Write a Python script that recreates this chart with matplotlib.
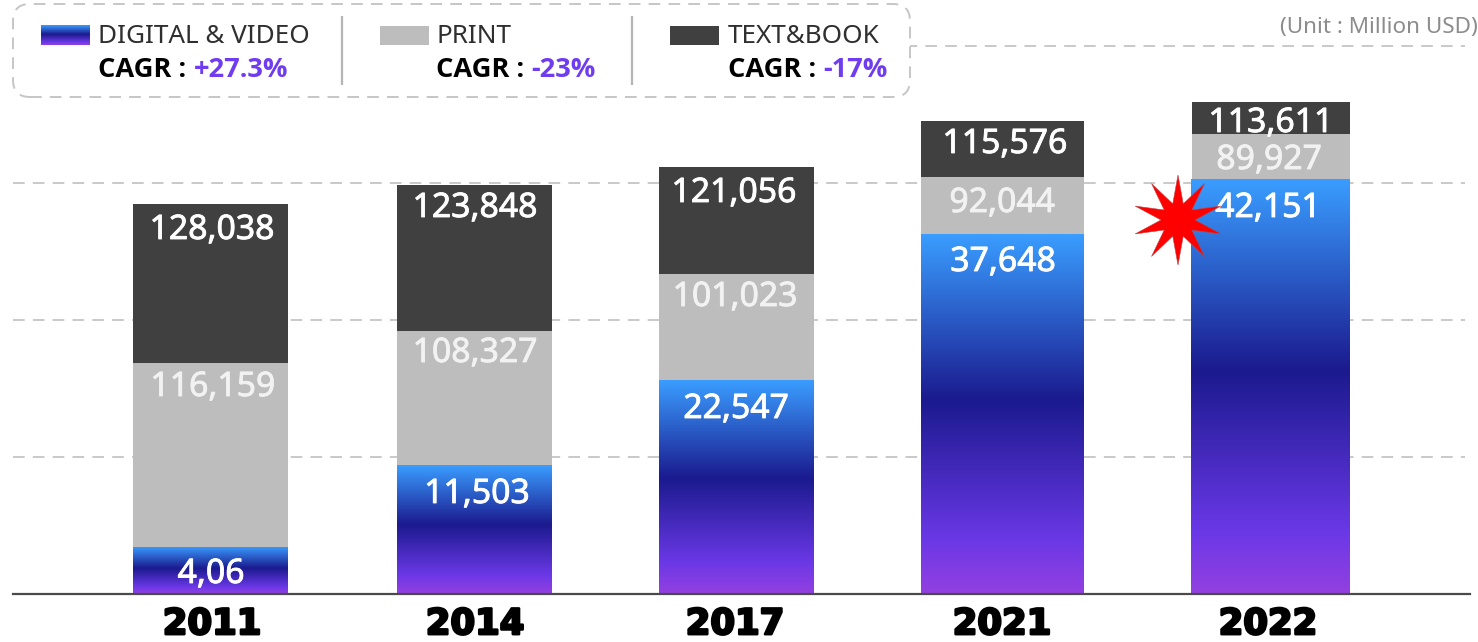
import numpy as np
import matplotlib
matplotlib.use("Agg")
import matplotlib.pyplot as plt
import matplotlib.patheffects as pe
from matplotlib.colors import LinearSegmentedColormap
from matplotlib.patches import FancyBboxPatch, Polygon, Rectangle

# ---- data -------------------------------------------------------------
years = ["2011", "2014", "2017", "2021", "2022"]
# drawn segment heights (the source bars are not to scale)
digital_heights = [47, 129, 214, 360, 415]
print_heights = [184, 134, 106, 57, 45]
text_heights = [159, 146, 107, 56, 32]
# printed labels
digital_labels = ["4,06", "11,503", "22,547", "37,648", "42,151"]
print_labels = ["116,159", "108,327", "101,023", "92,044", "89,927"]
text_labels = ["128,038", "123,848", "121,056", "115,576", "113,611"]
grid_levels = [137, 274, 411, 548]

# ---- layout (pixel based) ---------------------------------------------
W, H = 1478, 642
BASE = 594
centers = [210.5, 474.5, 736.5, 1002.5, 1270.5]
widths = [155, 155, 155, 163, 158]
blue_widths = [155, 155, 155, 163, 159]
tick_x = [212, 475, 735, 1002, 1268]
digital_lx = [211, 477, 736, 1003, 1268]
print_lx = [213, 475, 735, 1002, 1269]
text_lx = [212, 475, 734, 1005, 1271]
digital_ly = [570, 490, 405, 258, 204]
print_ly = [383, 349, 293, 199, 156]
text_ly = [226, 204, 189, 140, 119]

plt.rcParams["font.family"] = ["Noto Sans", "DejaVu Sans"]
DARK, GREY, PURPLE = "#404040", "#bdbdbd", "#6f3cf0"

cmap = LinearSegmentedColormap.from_list(
    "dv", [(0, "#3a9dff"), (0.46, "#1b1a8e"), (0.85, "#6a38e6"), (1, "#9340e0")])
grad = np.linspace(0, 1, 256).reshape(-1, 1)

fig = plt.figure(figsize=(W / 100, H / 100), dpi=100, facecolor="white")
ax = fig.add_axes([0, (H - BASE) / H, 1, BASE / H])
ax.patch.set_alpha(0)
for s in ["top", "left", "right"]:
    ax.spines[s].set_visible(False)
ax.spines["bottom"].set_bounds(13, 1470)
ax.spines["bottom"].set_color("#4a4a4a")
ax.spines["bottom"].set_linewidth(1.6)
ax.set_yticks([])
ax.set_xticks(tick_x)
ax.set_xticklabels(years, fontsize=25.5, fontweight="bold", color="black",
                   family=["DejaVu Sans"],
                   path_effects=[pe.withStroke(linewidth=1.8, foreground="black")])
ax.tick_params(axis="x", length=0, pad=9.5)

ax.hlines(grid_levels, 13, 1465, colors="#c9c9c9", linewidth=1.4,
          linestyles=(0, (6, 4.2)), zorder=1)

for i in range(len(years)):
    c, w = centers[i], widths[i]
    bw, d, p, t = blue_widths[i], digital_heights[i], print_heights[i], text_heights[i]
    ax.imshow(grad, cmap=cmap, aspect="auto", zorder=2, interpolation="bilinear",
              extent=(c - bw / 2, c + bw / 2, 0, d))
    ax.bar(c, p, w, bottom=d, color=GREY, zorder=2)
    ax.bar(c, t, w, bottom=d + p, color=DARK, zorder=2)

LABEL = dict(fontsize=24.3, ha="center", va="center_baseline", zorder=4)
def halo(col):
    return [pe.withStroke(linewidth=0.6, foreground=col)]
for i in range(len(years)):
    ax.text(digital_lx[i], BASE - digital_ly[i], digital_labels[i], color="white",
            path_effects=halo("white"), **LABEL)
    ax.text(print_lx[i], BASE - print_ly[i], print_labels[i], color="#f2f2f2",
            path_effects=halo("#f2f2f2"), **LABEL)
    ax.text(text_lx[i], BASE - text_ly[i], text_labels[i], color="white",
            path_effects=halo("white"), **LABEL)

# burst
cx, cy, ro, ri = 1178, BASE - 220, 45, 17
ang = np.deg2rad(90 - np.arange(20) * 18)
rad = np.where(np.arange(20) % 2 == 0, ro, ri)
ax.add_patch(Polygon(np.c_[cx + rad * np.cos(ang), cy + rad * np.sin(ang)],
                     closed=True, fc="#ff0000", ec="#c04040", lw=0.4, zorder=5))

# legend box
ax.add_patch(FancyBboxPatch((13 + 17, BASE - 97 + 17), 897 - 34, 93 - 34,
                            boxstyle="round,pad=17,rounding_size=17",
                            fc="white", ec="#c6c6c6", lw=1.4,
                            linestyle=(0, (6, 4.2)), zorder=3))
ax.vlines([342, 632], BASE - 85, BASE - 16, colors="#b5b5b5", linewidth=1.6, zorder=4)
ax.imshow(grad, cmap=cmap, aspect="auto", zorder=4, interpolation="bilinear",
          extent=(41, 90, BASE - 45, BASE - 25))
ax.add_patch(Rectangle((380, BASE - 45), 49, 19, fc=GREY, ec="none", zorder=4))
ax.add_patch(Rectangle((670, BASE - 45), 49, 19, fc=DARK, ec="none", zorder=4))
ax.set_xlim(0, W)
ax.set_ylim(0, BASE)

BOLD = dict(fontsize=19.6, fontweight="bold", family=["Open Sans", "Liberation Sans", "DejaVu Sans"])
legend_items = [("DIGITAL & VIDEO", "+27.3%", 98.5), ("PRINT", "-23%", 436.5), ("TEXT&BOOK", "-17%", 727.5)]
for name, cagr, x in legend_items:
    ax.text(x, BASE - 43, name, fontsize=18.8, color="#2f2f2f", va="baseline", zorder=5)
    t = ax.text(x, BASE - 77, "CAGR : ", color="black", va="baseline", zorder=5, **BOLD)
    ax.annotate(cagr, xycoords=t, xy=(1, 0), xytext=(0, 0), textcoords="offset points",
                color=PURPLE, va="bottom", zorder=5, **BOLD)

ax.text(1478, BASE - 33, "(Unit : Million USD)", fontsize=16.2, color="#8c8c8c",
        ha="right", va="baseline", zorder=5)

fig.savefig("out.png", dpi=100)
